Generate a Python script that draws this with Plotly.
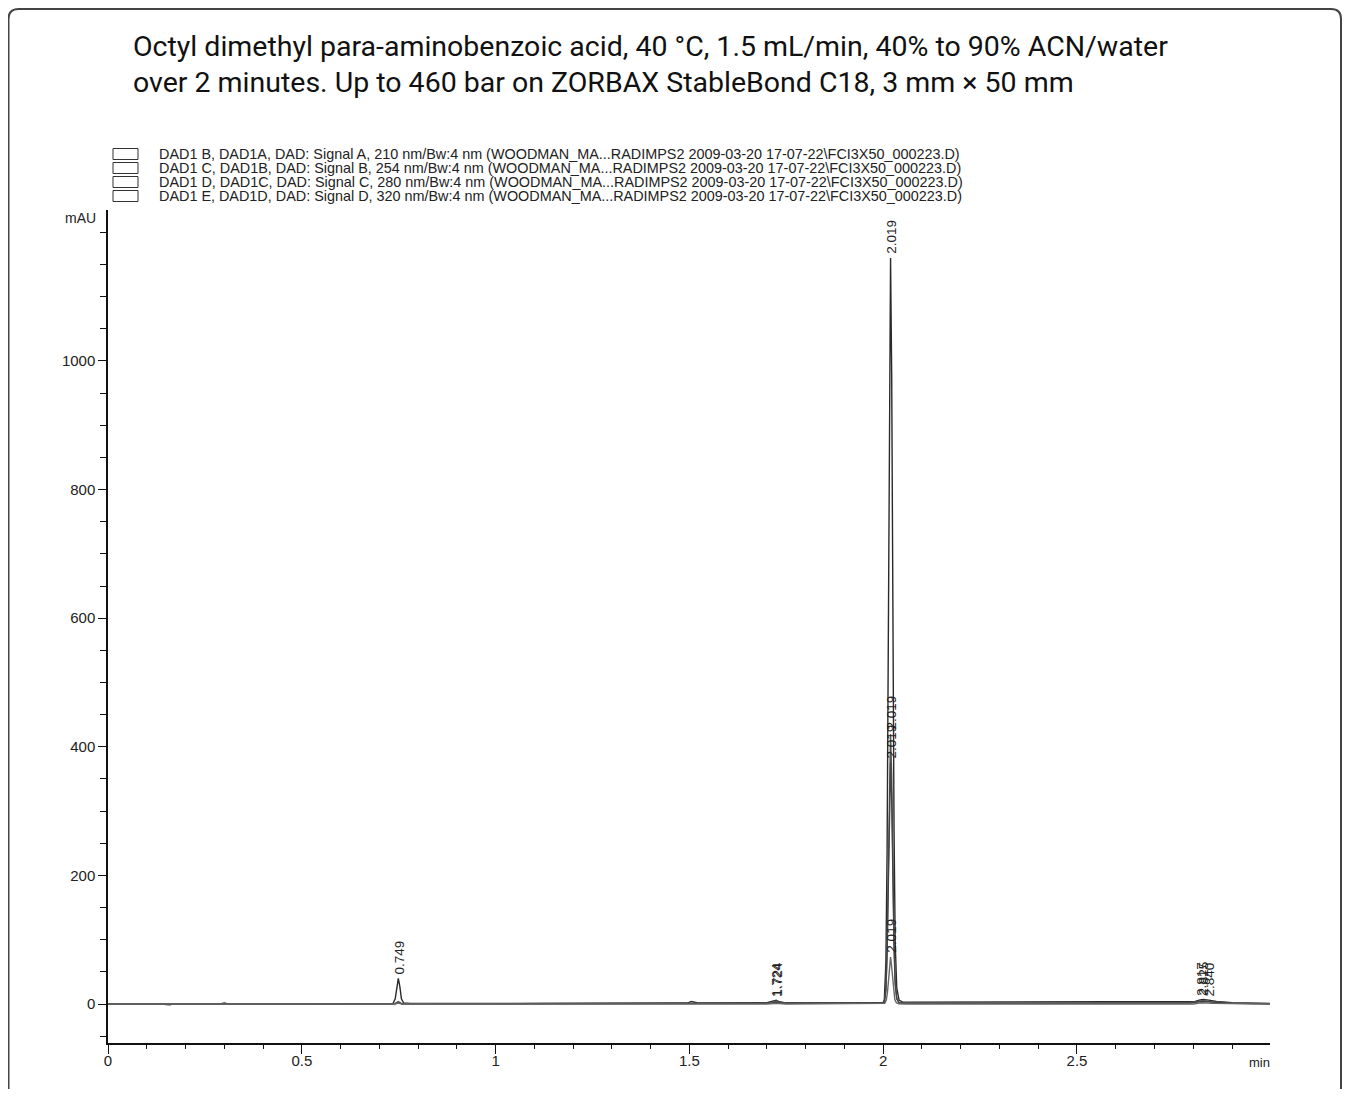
import plotly.graph_objects as go

# ---------------- data ----------------
title_lines = [
    "Octyl dimethyl para-aminobenzoic acid, 40 °C, 1.5 mL/min, 40% to 90% ACN/water",
    "over 2 minutes. Up to 460 bar on ZORBAX StableBond C18, 3 mm × 50 mm",
]

legend_texts = [
    "DAD1 B, DAD1A, DAD: Signal A, 210 nm/Bw:4 nm (WOODMAN_MA...RADIMPS2 2009-03-20 17-07-22\\FCI3X50_000223.D)",
    "DAD1 C, DAD1B, DAD: Signal B, 254 nm/Bw:4 nm (WOODMAN_MA...RADIMPS2 2009-03-20 17-07-22\\FCI3X50_000223.D)",
    "DAD1 D, DAD1C, DAD: Signal C, 280 nm/Bw:4 nm (WOODMAN_MA...RADIMPS2 2009-03-20 17-07-22\\FCI3X50_000223.D)",
    "DAD1 E, DAD1D, DAD: Signal D, 320 nm/Bw:4 nm (WOODMAN_MA...RADIMPS2 2009-03-20 17-07-22\\FCI3X50_000223.D)",
]

# Signal A, 210 nm
time_a = [0.000, 0.100, 0.140, 0.150, 0.160, 0.170, 0.180, 0.200, 0.290, 0.300, 0.310, 0.500,
          0.600, 0.735, 0.741, 0.745, 0.749, 0.753, 0.757, 0.763, 0.780, 1.000, 1.300, 1.495,
          1.505, 1.515, 1.525, 1.700, 1.716, 1.724, 1.732, 1.745, 1.900, 2.000, 2.003, 2.007,
          2.010, 2.013, 2.016, 2.019, 2.022, 2.025, 2.028, 2.031, 2.035, 2.041, 2.050, 2.070,
          2.300, 2.600, 2.790, 2.805, 2.815, 2.825, 2.840, 2.860, 2.900, 3.000]
mau_a = [0, 0, 0.5, -0.8, -1.2, 0.6, -0.6, 0, 0, 1.5, 0, 0.5,
         0.5, 0.5, 8, 28, 40, 27, 8, 1.5, 0.8, 1, 1.2, 1.5,
         4, 2.5, 1.5, 2, 4, 6, 3.5, 2, 2, 2, 7, 65,
         230, 565, 970, 1160, 975, 600, 270, 95, 25, 6, 3, 3,
         3, 3, 3, 4, 6, 7, 6, 4, 2, 1]

# Signal B, 254 nm
time_b = [0.000, 0.400, 0.740, 0.749, 0.758, 1.000, 1.500, 1.712, 1.724, 1.736, 1.950, 2.000,
          2.003, 2.007, 2.010, 2.013, 2.016, 2.019, 2.022, 2.025, 2.028, 2.031, 2.035, 2.041,
          2.060, 2.400, 2.790, 2.810, 2.825, 2.845, 2.900, 3.000]
mau_b = [0, 0, 0.5, 4, 0.5, 0.5, 1, 1.5, 5, 1.5, 1.5, 1.5,
         3, 24, 84, 205, 352, 420, 355, 218, 98, 35, 9, 2,
         1.5, 1.5, 2, 4, 5, 3.5, 1.5, 0.5]

# Signal C, 280 nm
time_c = [0.000, 0.400, 0.740, 0.749, 0.758, 1.000, 1.500, 1.712, 1.724, 1.736, 1.950, 2.000,
          2.003, 2.007, 2.010, 2.013, 2.016, 2.019, 2.022, 2.025, 2.028, 2.031, 2.035, 2.041,
          2.060, 2.400, 2.790, 2.815, 2.830, 2.850, 2.900, 3.000]
mau_c = [0, 0, 0.3, 2.5, 0.3, 0.3, 0.5, 1, 3, 1, 1, 1,
         2.5, 21, 75, 184, 315, 375, 318, 195, 88, 31, 8, 2,
         1, 1, 1.5, 3.5, 4, 3, 1, 0.3]

# Signal D, 320 nm
time_d = [0.000, 0.740, 0.749, 0.758, 1.700, 1.724, 1.750, 2.000, 2.004, 2.008, 2.011, 2.014,
          2.017, 2.019, 2.021, 2.024, 2.027, 2.030, 2.034, 2.040, 2.060, 2.800, 2.820, 2.850,
          3.000]
mau_d = [0, 0, 1.5, 0, 0, 1, 0, 0, 1, 6, 18, 38,
         62, 73, 63, 40, 19, 7, 2, 0.5, 0, 0, 2, 1,
         0]

# Peak labels: retention time, peak top (mAU), text
label_times = [0.749, 1.724, 1.724, 2.019, 2.019, 2.019, 2.019, 2.817, 2.825, 2.840]
label_heights = [40, 6, 5, 1160, 420, 375, 73, 6, 7, 5]
label_texts = ["0.749", "1.724", "1.724", "2.019", "2.019", "2.019", "2.019", "2.817", "2.825", "2.840"]

x_tick_vals = [0, 0.5, 1, 1.5, 2, 2.5]
x_tick_text = ["0", "0.5", "1", "1.5", "2", "2.5"]
y_tick_vals = [0, 200, 400, 600, 800, 1000]
y_tick_text = ["0", "200", "400", "600", "800", "1000"]

# ---------------- layout geometry ----------------
# the page body has an 8 px margin, so work in page pixels and shift by it
OFF = 8
W, H = 1351 - OFF, 1097 - 2 * OFF
L, R, T, B = 108 - OFF, 1270 - OFF, 210 - OFF, 1043 - OFF


def px(x):
    return (x - OFF - L) / (R - L)


def py(y):
    return (B - (y - OFF)) / (B - T)


FONT = "Liberation Sans, Arial, sans-serif"

fig = go.Figure()
signals = [(time_a, mau_a, "#2a2a2a"), (time_b, mau_b, "#555555"),
           (time_c, mau_c, "#444444"), (time_d, mau_d, "#666666")]
for t, v, c in signals:
    fig.add_trace(go.Scatter(x=t, y=v, mode="lines", line=dict(color=c, width=1.4),
                             showlegend=False, hoverinfo="skip"))

annotations = []
for t, h, txt in zip(label_times, label_heights, label_texts):
    annotations.append(dict(x=t, y=h, xref="x", yref="y", text=txt, showarrow=False,
                            textangle=-90, xanchor="center", yanchor="bottom", yshift=2,
                            xshift=1, font=dict(family=FONT, size=13.5, color="#222")))

# title
for i, line in enumerate(title_lines):
    annotations.append(dict(x=px(131), y=py(47 + 35 * i), xref="paper", yref="paper",
                            text=line, showarrow=False, xanchor="left", yanchor="middle",
                            font=dict(family="Roboto, sans-serif", size=28.5, color="#111")))

shapes = []
# legend rows
for i, txt in enumerate(legend_texts):
    yc = 154 + 14 * i
    annotations.append(dict(x=px(158), y=py(yc), xref="paper", yref="paper", text=txt,
                            showarrow=False, xanchor="left", yanchor="middle", borderpad=0,
                            font=dict(family=FONT, size=14.4, color="#222")))
    shapes.append(dict(type="rect", xref="paper", yref="paper", x0=px(113), x1=px(138),
                       y0=py(yc - 5.5), y1=py(yc + 5.5), line=dict(color="#333", width=1),
                       fillcolor="rgba(0,0,0,0)"))

annotations.append(dict(x=px(98), y=py(218), xref="paper", yref="paper", text="mAU",
                        showarrow=False, xanchor="right", yanchor="middle",
                        font=dict(family=FONT, size=14, color="#222")))
annotations.append(dict(x=px(1272), y=py(1062), xref="paper", yref="paper", text="min",
                        showarrow=False, xanchor="right", yanchor="middle",
                        font=dict(family=FONT, size=13, color="#222")))

# rounded outer border (open at bottom)
r = 10
x0b, x1b, y0b, y1b = 8.5, 1341, 9, 1120
path = (f"M {px(x0b)},{py(y1b)} L {px(x0b)},{py(y0b + r)} "
        f"Q {px(x0b)},{py(y0b)} {px(x0b + r)},{py(y0b)} "
        f"L {px(x1b - r)},{py(y0b)} "
        f"Q {px(x1b)},{py(y0b)} {px(x1b)},{py(y0b + r)} "
        f"L {px(x1b)},{py(y1b)}")
shapes.append(dict(type="path", xref="paper", yref="paper", path=path,
                   line=dict(color="#444", width=2)))

fig.update_layout(
    width=W, height=H,
    margin=dict(l=L, r=W - R, t=T, b=H - B),
    paper_bgcolor="white", plot_bgcolor="white",
    annotations=annotations, shapes=shapes,
    xaxis=dict(range=[0, 2.998], showgrid=False, zeroline=False, showline=True,
               linecolor="#111", linewidth=1.5, tickmode="array", tickvals=x_tick_vals,
               ticktext=x_tick_text, ticks="outside", ticklen=9, tickwidth=1.2,
               tickcolor="#111", ticklabelstandoff=-6,
               tickfont=dict(family=FONT, size=15, color="#222"),
               minor=dict(tickmode="linear", tick0=0, dtick=0.1, ticks="outside",
                          ticklen=4, tickwidth=1, tickcolor="#111")),
    yaxis=dict(range=[-60.6, 1234.8], showgrid=False, zeroline=False, showline=True,
               linecolor="#111", linewidth=1.5, tickmode="array", tickvals=y_tick_vals,
               ticktext=y_tick_text, ticks="outside", ticklen=8, tickwidth=1.2,
               tickcolor="#111", tickfont=dict(family=FONT, size=15, color="#222"),
               minor=dict(tickmode="linear", tick0=0, dtick=50, ticks="outside",
                          ticklen=6, tickwidth=1, tickcolor="#111")),
)

fig.write_html("out.html")
